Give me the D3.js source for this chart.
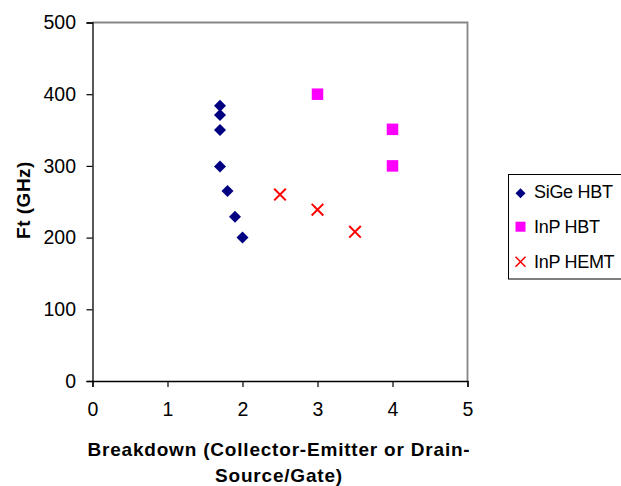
<!DOCTYPE html>
<html lang="en">
<head>
  <meta charset="UTF-8">
  <title>Ft vs Breakdown</title>
  <style>
    body { margin: 0; background: #fff; }
    svg { display: block; font-family: "Liberation Sans", Arial, sans-serif; }
    .tick text { font-size: 19.5px; fill: #000; }
    .axis-title { font-size: 19px; font-weight: bold; }
    .legend text { font-size: 18px; }
  </style>
</head>
<body>
<svg width="621" height="486"></svg>

<script src="https://cdn.jsdelivr.net/npm/d3@7/dist/d3.min.js"></script>
<script>
  const xTicks = [0, 1, 2, 3, 4, 5];
  const yTicks = [0, 100, 200, 300, 400, 500];

  const sigeX = [1.7, 1.7, 1.7, 1.7, 1.8, 1.9, 2.0];
  const sigeY = [384, 371, 350, 299, 265, 229, 200];
  const inpHbtX = [3, 4, 4];
  const inpHbtY = [400, 351, 300];
  const inpHemtX = [2.5, 3, 3.5];
  const inpHemtY = [260, 239, 208];

  const seriesNames = ["SiGe HBT", "InP HBT", "InP HEMT"];

  const svg = d3.select("svg");
  const plotL = 92.5, plotR = 467.5, plotT = 22.5, plotB = 381;

  const x = d3.scaleLinear().domain([0, 5]).range([plotL, plotR]);
  const y = d3.scaleLinear().domain([0, 500]).range([plotB, plotT]);

  // plot frame: grey top/right
  svg.append("path")
    .attr("d", "M" + plotL + "," + plotT + "H" + plotR + "V" + plotB)
    .attr("fill", "none")
    .attr("stroke", "#868686")
    .attr("stroke-width", 1.8);

  const xAxis = svg.append("g")
    .attr("transform", "translate(0," + plotB + ")")
    .call(d3.axisBottom(x).tickValues(xTicks).tickSize(6).tickPadding(15).tickFormat(d3.format("d")));

  const yAxis = svg.append("g")
    .attr("transform", "translate(" + plotL + ",0)")
    .call(d3.axisLeft(y).tickValues(yTicks).tickSize(6).tickPadding(10.5).tickFormat(d3.format("d")));

  [xAxis, yAxis].forEach(function (a) {
    a.attr("font-family", null).attr("font-size", null);
    a.select(".domain").attr("stroke", "#000").attr("stroke-width", 1.3);
    a.selectAll(".tick line").attr("stroke", "#000").attr("stroke-width", 1.2);
  });

  const diamond = d3.symbol().type(d3.symbolDiamond2).size(92);

  svg.append("g").selectAll("path")
    .data(d3.zip(sigeX, sigeY))
    .enter().append("path")
    .attr("transform", function (d) { return "translate(" + x(d[0]) + "," + y(d[1]) + ")"; })
    .attr("d", diamond)
    .attr("fill", "#000080");

  svg.append("g").selectAll("rect")
    .data(d3.zip(inpHbtX, inpHbtY))
    .enter().append("rect")
    .attr("x", function (d) { return x(d[0]) - 5.75; })
    .attr("y", function (d) { return y(d[1]) - 5.75; })
    .attr("width", 11.5)
    .attr("height", 11.5)
    .attr("fill", "#ff00ff");

  const cross = "M-5.8,-5.8L5.8,5.8M-5.8,5.8L5.8,-5.8";
  svg.append("g").selectAll("path")
    .data(d3.zip(inpHemtX, inpHemtY))
    .enter().append("path")
    .attr("transform", function (d) { return "translate(" + x(d[0]) + "," + y(d[1]) + ")"; })
    .attr("d", cross)
    .attr("stroke", "#ff0000")
    .attr("stroke-width", 2)
    .attr("fill", "none");

  // axis titles
  svg.append("text")
    .attr("class", "axis-title")
    .attr("x", 279).attr("y", 456)
    .attr("text-anchor", "middle")
    .attr("letter-spacing", 0.8)
    .text("Breakdown (Collector-Emitter or Drain-");
  svg.append("text")
    .attr("class", "axis-title")
    .attr("x", 279).attr("y", 481.5)
    .attr("text-anchor", "middle")
    .attr("letter-spacing", 0.8)
    .text("Source/Gate)");

  svg.append("text")
    .attr("class", "axis-title")
    .attr("transform", "translate(30,200) rotate(-90)")
    .attr("text-anchor", "middle")
    .attr("letter-spacing", 0.5)
    .text("Ft (GHz)");

  // legend
  const legend = svg.append("g").attr("class", "legend");
  legend.append("rect")
    .attr("x", 508.5).attr("y", 174.5)
    .attr("width", 130).attr("height", 104.5)
    .attr("fill", "#fff")
    .attr("stroke", "#000");

  const rowY = [193.3, 226.7, 261.7];
  const baseY = [197.5, 233.3, 268.3];
  seriesNames.forEach(function (name, i) {
    const cx = 520.5, cy = rowY[i];
    if (i === 0) {
      legend.append("path").attr("transform", "translate(" + cx + "," + cy + ")")
        .attr("d", d3.symbol().type(d3.symbolDiamond2).size(64)).attr("fill", "#000080");
    } else if (i === 1) {
      legend.append("rect").attr("x", cx - 5).attr("y", cy - 5)
        .attr("width", 10).attr("height", 10).attr("fill", "#ff00ff");
    } else {
      legend.append("path").attr("transform", "translate(" + cx + "," + cy + ")")
        .attr("d", "M-5,-5L5,5M-5,5L5,-5")
        .attr("stroke", "#ff0000").attr("stroke-width", 1.6).attr("fill", "none");
    }
    legend.append("text")
      .attr("x", 534).attr("y", baseY[i])
      .attr("letter-spacing", -0.3)
      .text(name);
  });
</script>
</body>
</html>
